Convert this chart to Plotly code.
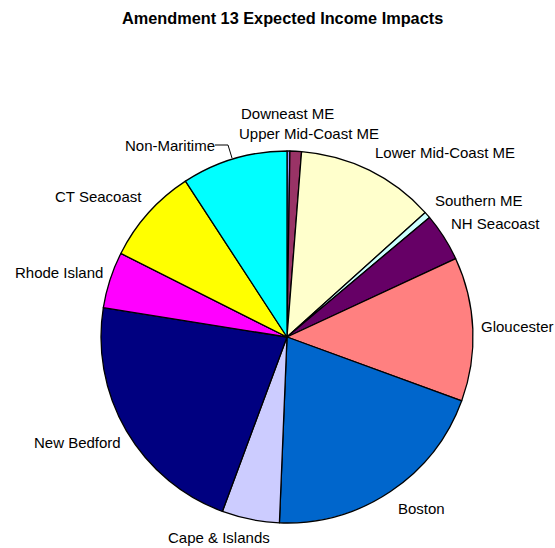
import plotly.graph_objects as go

# regions, clockwise from 12 o'clock
regions = ["Downeast ME", "Upper Mid-Coast ME", "Lower Mid-Coast ME", "Southern ME",
           "NH Seacoast", "Gloucester", "Boston", "Cape & Islands", "New Bedford",
           "Rhode Island", "CT Seacoast", "Non-Maritime"]
impact_pct = [0.25, 1.0, 12.1, 0.55, 4.2, 12.5, 20.1, 5.0, 21.9, 4.9, 8.4, 9.2]
colors = ["#9999FF", "#993366", "#FFFFCC", "#CCFFFF", "#660066", "#FF8080",
          "#0066CC", "#CCCCFF", "#000080", "#FF00FF", "#FFFF00", "#00FFFF"]

W, H = 555, 548


def px(x):
    return x / W


def py(y):
    return 1 - y / H


# label anchor points in window pixels (left edge, middle)
label_pos = {
    "Downeast ME": (239, 113),
    "Upper Mid-Coast ME": (237, 133),
    "Lower Mid-Coast ME": (373, 152),
    "Southern ME": (433, 200),
    "NH Seacoast": (449, 223),
    "Gloucester": (479, 326),
    "Boston": (396, 508),
    "Cape & Islands": (166, 537),
    "New Bedford": (32, 442),
    "Rhode Island": (13, 272),
    "CT Seacoast": (53, 196),
    "Non-Maritime": (123, 145),
}

fig = go.Figure(go.Pie(
    labels=regions, values=impact_pct, sort=False, direction="clockwise",
    rotation=0, textinfo="none", hoverinfo="label+percent",
    marker=dict(colors=colors, line=dict(color="black", width=1.3)),
    domain=dict(x=[px(101), px(473)], y=[py(523), py(151)]),
    showlegend=False,
))

annotations = []
for name in regions:
    lx, ly = label_pos[name]
    annotations.append(dict(
        text=name, x=px(lx), y=py(ly), xref="paper", yref="paper",
        xanchor="left", yanchor="middle", showarrow=False,
        font=dict(size=15, color="black"),
    ))
annotations.append(dict(
    text="<b>Amendment 13 Expected Income Impacts</b>", x=px(282.5), y=py(18),
    xref="paper", yref="paper", xanchor="center", yanchor="middle",
    showarrow=False, font=dict(size=16.3, color="black"),
))

# leader line for Non-Maritime
leader = "M {} {} L {} {} L {} {}".format(
    px(215), py(145), px(228), py(145), px(232), py(158))

fig.update_layout(
    width=W, height=H,
    margin=dict(l=0, r=0, t=0, b=0),
    paper_bgcolor="white", plot_bgcolor="white",
    font=dict(family="Liberation Sans, Arial, sans-serif", color="black"),
    annotations=annotations,
    shapes=[dict(type="path", path=leader, xref="paper", yref="paper",
                 line=dict(color="black", width=1))],
)

# drop the default 8px body margin so the figure fills the window
fig.write_html("out.html",
               config=dict(displayModeBar=False),
               post_script="document.body.style.margin='0';"
                           "document.body.style.overflow='hidden';")
